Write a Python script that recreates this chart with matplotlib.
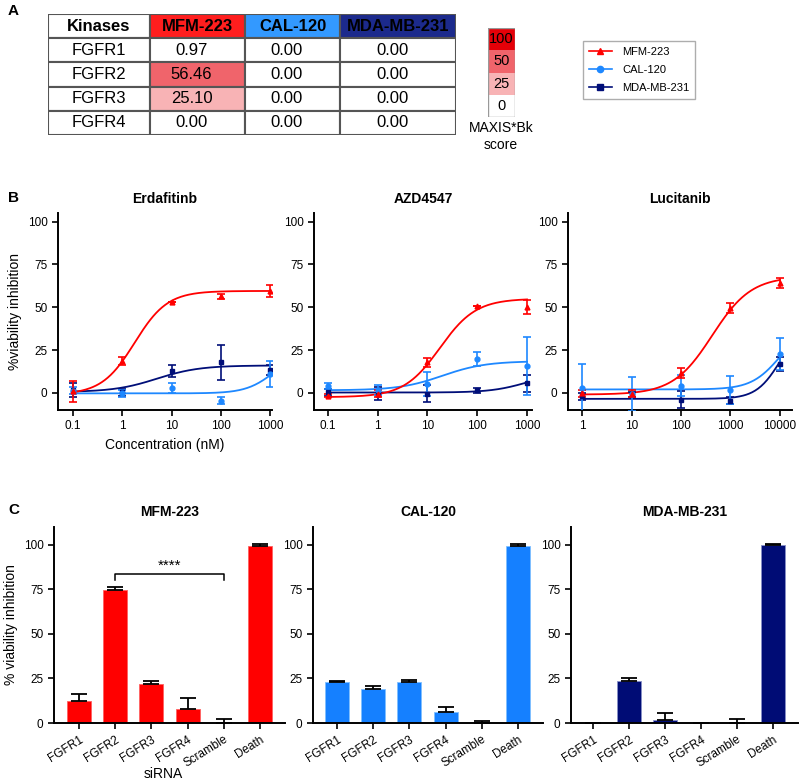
import numpy as np
import matplotlib
matplotlib.use('Agg')
import matplotlib.pyplot as plt
from matplotlib.colors import ListedColormap, BoundaryNorm
from matplotlib.lines import Line2D
from matplotlib.patches import Rectangle

plt.rcParams['font.family'] = ['Liberation Sans', 'DejaVu Sans']

# ---- data ----
cell_lines = ['MFM-223', 'CAL-120', 'MDA-MB-231']
line_colors = ['#FF0000', '#1E88FF', '#000E78']
point_colors = ['#FF0000', '#1E88FF', '#000E78']
markers = ['^', 'o', 's']

# panel A: MAXIS*Bk scores
kinases = ['FGFR1', 'FGFR2', 'FGFR3', 'FGFR4']
score_mfm = [0.97, 56.46, 25.10, 0.00]
score_cal = [0.00, 0.00, 0.00, 0.00]
score_mda = [0.00, 0.00, 0.00, 0.00]
scale_levels = [0, 25, 50, 100]
scale_colors = ['#FFFFFF', '#F8B3B5', '#F0646B', '#E50008']
header_colors = ['#FF1E1E', '#3399FF', '#1C2A8C']

# panel B: dose response (mean, sd) per cell line
erda_conc = [0.1, 1, 10, 100, 1000]
erda_mfm = [0.8, 18.6, 53.1, 56.4, 59.3]
erda_mfm_sd = [6.0, 2.5, 0.0, 1.5, 3.5]
erda_cal = [1.2, -0.2, 2.7, -4.7, 11.0]
erda_cal_sd = [2.0, 2.0, 3.0, 2.0, 7.5]
erda_mda = [1.7, 0.4, 13.0, 17.8, 13.4]
erda_mda_sd = [4.0, 2.0, 3.5, 10.0, 3.0]

azd_conc = [0.1, 1, 10, 100, 1000]
azd_mfm = [-1.7, -0.4, 17.8, 50.9, 50.3]
azd_mfm_sd = [1.0, 2.0, 2.5, 0.0, 4.0]
azd_cal = [4.0, 1.7, 5.0, 19.6, 15.9]
azd_cal_sd = [2.0, 3.0, 7.0, 4.0, 17.0]
azd_mda = [0.4, -0.4, -0.4, 1.4, 5.6]
azd_mda_sd = [2.0, 4.0, 5.0, 1.5, 5.0]

luc_conc = [1, 10, 100, 1000, 10000]
luc_mfm = [-0.2, -0.5, 11.4, 49.4, 64.3]
luc_mfm_sd = [2.0, 2.0, 3.0, 3.0, 3.0]
luc_cal = [3.1, -0.5, 4.3, 1.7, 22.7]
luc_cal_sd = [14.0, 10.0, 6.0, 8.0, 9.6]
luc_mda = [-2.1, -0.8, -4.0, -4.5, 16.9]
luc_mda_sd = [2.0, 1.5, 5.0, 2.0, 4.0]

# fitted 4PL curves: bottom, top, logEC50, hill
erda_fits = [(-1.0, 59.5, 0.25, 1.3), (-0.3, 25.0, 3.1, 1.5), (0.5, 16.0, 0.7, 1.0)]
azd_fits = [(-2.5, 55.0, 1.25, 1.2), (1.5, 18.5, 1.3, 1.0), (0.2, 12.0, 3.0, 1.2)]
luc_fits = [(-1.0, 68.0, 2.63, 1.1), (2.0, 40.0, 4.0, 1.5), (-3.5, 40.0, 4.0, 1.8)]

# panel C: siRNA knockdown
sirna = ['FGFR1', 'FGFR2', 'FGFR3', 'FGFR4', 'Scramble', 'Death']
sirna_mfm = [12.1, 74.8, 21.8, 8.0, 0.0, 99.4]
sirna_mfm_err = [4.3, 1.8, 1.8, 5.8, 2.2, 1.1]
sirna_cal = [22.9, 19.0, 22.9, 6.1, 0.0, 99.4]
sirna_cal_err = [0.9, 1.9, 1.1, 2.8, 1.1, 1.1]
sirna_mda = [0.0, 23.5, 1.9, 0.0, 0.0, 100.0]
sirna_mda_err = [0.0, 1.5, 3.5, 0.0, 2.0, 0.7]

W, H = 800, 781


def box(l, t, r, b):
    return [l / W, 1 - b / H, (r - l) / W, (b - t) / H]


def four_pl(x, bottom, top, logec50, hill):
    return bottom + (top - bottom) / (1 + 10 ** ((logec50 - np.log10(x)) * hill))


fig = plt.figure(figsize=(8, 7.81), dpi=100)

# ---- panel A: table ----
fig.text(8 / W, 1 - 11 / H, 'A', fontsize=11, fontweight='bold', va='center')
axt = fig.add_axes(box(48, 14, 456, 135))
axt.set_xlim(0, 408)
axt.set_ylim(121, 0)
axt.axis('off')
col_edges = [0, 102, 197, 292, 408]
row_h = 121 / 5
cmap = ListedColormap(scale_colors)
norm = BoundaryNorm([0, 25, 50, 100, 101], cmap.N)

headers = ['Kinases'] + cell_lines
for j, name in enumerate(headers):
    x0, x1 = col_edges[j], col_edges[j + 1]
    fc = 'white' if j == 0 else header_colors[j - 1]
    axt.add_patch(Rectangle((x0, 0), x1 - x0, row_h, facecolor=fc,
                            edgecolor='#555555', linewidth=1.5))
    axt.text((x0 + x1) / 2, row_h / 2, name, ha='center', va='center',
             fontsize=12, fontweight='bold')

columns = [score_mfm, score_cal, score_mda]
for i, kin in enumerate(kinases):
    y0 = (i + 1) * row_h
    axt.add_patch(Rectangle((0, y0), col_edges[1], row_h, facecolor='white',
                            edgecolor='#555555', linewidth=1.5))
    axt.text(col_edges[1] / 2, y0 + row_h / 2, kin, ha='center', va='center', fontsize=12)
    for j, col in enumerate(columns):
        x0, x1 = col_edges[j + 1], col_edges[j + 2]
        axt.add_patch(Rectangle((x0, y0), x1 - x0, row_h, facecolor=cmap(norm(col[i])),
                                edgecolor='#555555', linewidth=1.5))
        axt.text((x0 + x1) / 2 - 6, y0 + row_h / 2, f'{col[i]:.2f}', ha='center',
                 va='center', fontsize=12)

# colour scale
axs = fig.add_axes(box(488, 28, 515, 117))
axs.set_xlim(0, 1)
axs.set_ylim(0, 4)
axs.axis('off')
for k, (lvl, c) in enumerate(zip(scale_levels, scale_colors)):
    axs.add_patch(Rectangle((0, k), 1, 1, facecolor=c, edgecolor='none'))
    axs.text(0.5, k + 0.5, str(lvl), ha='center', va='center', fontsize=10.5)
axs.add_patch(Rectangle((0, 0), 1, 4, facecolor='none', edgecolor='#999999', linewidth=1))
fig.text(501 / W, 1 - 121 / H, 'MAXIS*Bk\nscore', ha='center', va='top', fontsize=10,
         linespacing=1.3)

# legend
handles = [Line2D([0], [0], color=c, marker=m, markersize=4.5, linewidth=1.2)
           for c, m in zip(line_colors, markers)]
leg = fig.legend(handles, cell_lines, loc='upper left',
                 bbox_to_anchor=(583 / W, 1 - 41 / H), fontsize=8, frameon=True,
                 fancybox=False, edgecolor='#999999', handlelength=2.1,
                 borderpad=0.5, labelspacing=0.75, borderaxespad=0, handletextpad=0.9)
leg.get_frame().set_linewidth(1)


def style_axes(ax):
    for s in ['top', 'right']:
        ax.spines[s].set_visible(False)
    for s in ['left', 'bottom']:
        ax.spines[s].set_linewidth(1.4)
    ax.tick_params(direction='out', length=4, width=1.2, labelsize=8.5)
    ax.tick_params(which='minor', length=0)


# ---- panel B ----
fig.text(8 / W, 1 - 198 / H, 'B', fontsize=11, fontweight='bold', va='center')
panels_b = [
    ('Erdafitinb', erda_conc, [erda_mfm, erda_cal, erda_mda],
     [erda_mfm_sd, erda_cal_sd, erda_mda_sd], erda_fits, (58, 272), (0.0494, 1100)),
    ('AZD4547', azd_conc, [azd_mfm, azd_cal, azd_mda],
     [azd_mfm_sd, azd_cal_sd, azd_mda_sd], azd_fits, (314, 532), (0.0525, 1260)),
    ('Lucitanib', luc_conc, [luc_mfm, luc_cal, luc_mda],
     [luc_mfm_sd, luc_cal_sd, luc_mda_sd], luc_fits, (568, 792), (0.52, 17500)),
]
for idx, (title, conc, means, sds, fits, (l, r), xl) in enumerate(panels_b):
    ax = fig.add_axes(box(l, 213, r, 410))
    style_axes(ax)
    ax.set_xscale('log')
    ax.set_xlim(*xl)
    ax.set_ylim(-10, 105)
    xs = np.logspace(np.log10(conc[0]), np.log10(conc[-1]), 200)
    for k in [2, 1, 0]:
        ax.plot(xs, four_pl(xs, *fits[k]), color=line_colors[k], linewidth=1.3, zorder=2)
        ax.errorbar(conc, means[k], yerr=sds[k], fmt=markers[k], color=point_colors[k],
                    markersize=3.5, capsize=3, elinewidth=1.2, capthick=1.2, zorder=3)
    ax.set_xticks(conc)
    ax.set_xticklabels([f'{c:g}' for c in conc])
    ax.set_yticks([0, 25, 50, 75, 100])
    ax.set_title(title, fontsize=10, fontweight='bold', pad=7)
    if idx == 0:
        ax.set_ylabel('%viability inhibition', fontsize=10)
        ax.set_xlabel('Concentration (nM)', fontsize=10)

# ---- panel C ----
fig.text(8 / W, 1 - 510 / H, 'C', fontsize=11, fontweight='bold', va='center')
panels_c = [
    ('MFM-223', sirna_mfm, sirna_mfm_err, '#FF0000', '#FF6060', (54, 285), -0.69),
    ('CAL-120', sirna_cal, sirna_cal_err, '#1580FF', '#7FBFFF', (313, 543), -0.66),
    ('MDA-MB-231', sirna_mda, sirna_mda_err, '#000C75', '#8890C8', (571, 798), -0.61),
]
for idx, (title, vals, errs, col, ecol, (l, r), x0) in enumerate(panels_c):
    ax = fig.add_axes(box(l, 527, r, 723))
    style_axes(ax)
    x = np.arange(len(sirna))
    ax.bar(x, vals, width=0.66, color=col, edgecolor=ecol, linewidth=0.6, zorder=2)
    ax.errorbar(x, vals, yerr=[np.zeros(len(errs)), errs], fmt='none', ecolor='black',
                elinewidth=1.3, capsize=5.5, capthick=1.3, zorder=3)
    ax.set_xlim(x0, 5.69)
    ax.set_ylim(0, 110)
    ax.set_yticks([0, 25, 50, 75, 100])
    ax.set_xticks(x)
    ax.set_xticklabels(sirna, rotation=32, ha='right', rotation_mode='anchor', fontsize=8.5)
    ax.set_title(title, fontsize=10, fontweight='bold', pad=8)
    if idx == 0:
        ax.set_ylabel('% viability inhibition', fontsize=10)
        # significance bracket FGFR2 vs Scramble
        ax.plot([1, 1, 4, 4], [80, 83.4, 83.4, 80], color='black', linewidth=1.1)
        ax.text(2.5, 84.5, '****', ha='center', va='bottom', fontsize=11)

fig.text(163 / W, 1 - 778 / H, 'siRNA', ha='center', va='baseline', fontsize=10)

fig.savefig('out.png', dpi=100)
